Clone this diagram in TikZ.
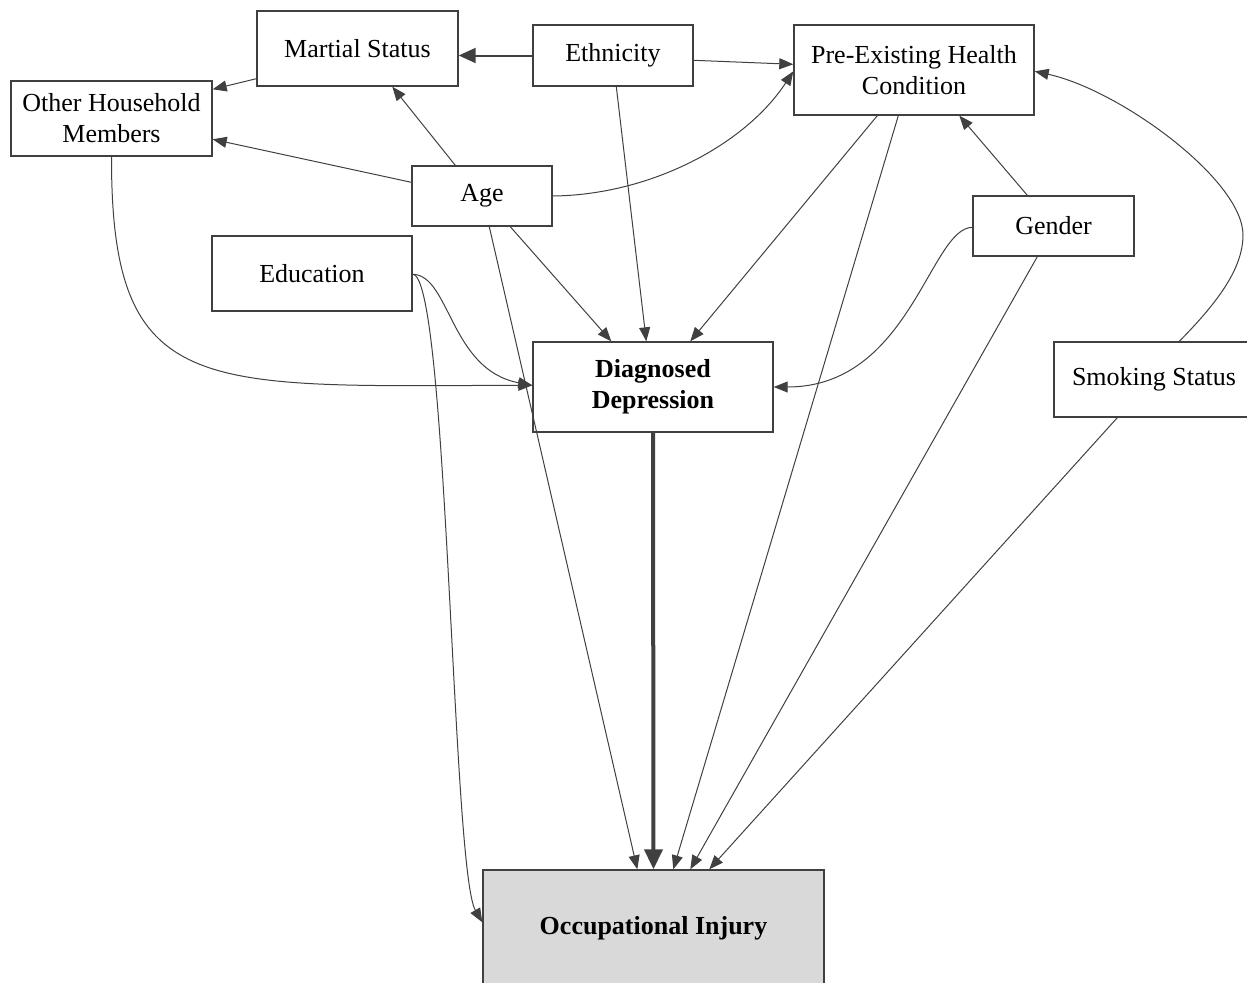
\documentclass[tikz,border=0pt]{standalone}
\usepackage{fontspec}
\setmainfont{Liberation Serif}
\usetikzlibrary{arrows.meta,calc}
\definecolor{ink}{HTML}{404040}
\definecolor{outfill}{HTML}{D9D9D9}
\begin{document}
\begin{tikzpicture}[x=1bp,y=-1bp,
  varbox/.style={draw=ink,line width=1.4bp,fill=white,inner sep=0pt,align=center,
    font=\fontsize{26bp}{31bp}\selectfont},
  keybox/.style={varbox,font=\fontsize{26bp}{31bp}\selectfont\bfseries},
  link/.style={draw=ink,line width=1bp,-{Triangle[length=14bp,width=11bp]}},
  boldlink/.style={draw=ink,line width=2bp,-{Triangle[length=17bp,width=15bp]}},
  mainlink/.style={draw=ink,line width=4bp,-{Triangle[length=20bp,width=18bp]}}]
\useasboundingbox (0,0) rectangle (1247,983);

% variables
\node[varbox,minimum width=201bp,minimum height=75bp] (mar) at (357.5,48.5) {Martial Status};
\node[varbox,minimum width=160bp,minimum height=61bp] (eth) at (613,55.5) {Ethnicity};
\node[varbox,minimum width=240bp,minimum height=90bp] (pre) at (914,70) {Pre-Existing Health\\Condition};
\node[varbox,minimum width=201bp,minimum height=75bp] (oth) at (111.5,118.5) {Other Household\\Members};
\node[varbox,minimum width=140bp,minimum height=60bp] (age) at (482,196) {Age};
\node[varbox,minimum width=161bp,minimum height=60bp] (gen) at (1053.5,226) {Gender};
\node[varbox,minimum width=200bp,minimum height=75bp] (edu) at (312,273.5) {Education};
\node[keybox,minimum width=240bp,minimum height=90bp] (dep) at (653,387) {Diagnosed\\Depression};
\node[varbox,minimum width=200bp,minimum height=75bp] (smo) at (1154,379.5) {Smoking Status};
\node[keybox,fill=outfill,minimum width=341bp,minimum height=116bp] (inj) at (653.5,928) {Occupational Injury};

% paths among the covariates
\draw[boldlink] (eth.west) -- (eth.west -| mar.east);
\draw[link] ($(mar.south west)+(0,-8)$) -- ($(oth.north east)+(0,9)$);
\draw[link] ($(eth.north east)+(0,36)$) -- ($(pre.north west)+(0,40)$);
\draw[link] ($(age.north west)+(44,0)$) -- ($(mar.south west)+(136,0)$);
\draw[link] ($(age.north west)+(0,17)$) -- ($(oth.north east)+(0,59)$);
\draw[link] (age.east) .. controls (650,195) and (745,145) .. ($(pre.north west)+(0,47)$);
\draw[link] ($(gen.north west)+(55,0)$) -- ($(pre.south west)+(166,0)$);
\draw[link] ($(smo.north west)+(126,0)$) .. controls (1215,305) and (1243,270) .. (1243,235)
  .. controls (1243,180) and (1120,90) .. ($(pre.north east)+(0,47)$);

% paths into diagnosed depression
\draw[link] ($(eth.south west)+(84,0)$) -- ($(dep.north west)+(114,0)$);
\draw[link] ($(age.south west)+(99,0)$) -- ($(dep.north west)+(79,0)$);
\draw[link] ($(pre.south west)+(84,0)$) -- ($(dep.north west)+(158,0)$);
\draw[link] ($(gen.north west)+(0,32)$) .. controls (930,228) and (910,387) .. (dep.east);
\draw[link] (oth.south) .. controls (111,400) and (200,386) .. ($(dep.north west)+(0,44)$);
\draw[link] ($(edu.north east)+(0,39)$) .. controls (450,275) and (450,370) .. ($(dep.north west)+(0,44)$);

% paths into occupational injury
\draw[link] ($(edu.north east)+(0,39)$) .. controls (448,275) and (452,870) .. ($(inj.north west)+(0,53)$);
\draw[link] ($(age.south west)+(78,0)$) -- ($(inj.north west)+(155,0)$);
\draw[mainlink] (dep.south) -- (inj.north);
\draw[link] ($(pre.south west)+(105,0)$) -- ($(inj.north west)+(191,0)$);
\draw[link] ($(gen.south west)+(65,0)$) -- ($(inj.north west)+(208,0)$);
\draw[link] ($(smo.south west)+(64,0)$) -- ($(inj.north west)+(227,0)$);
\end{tikzpicture}
\end{document}
